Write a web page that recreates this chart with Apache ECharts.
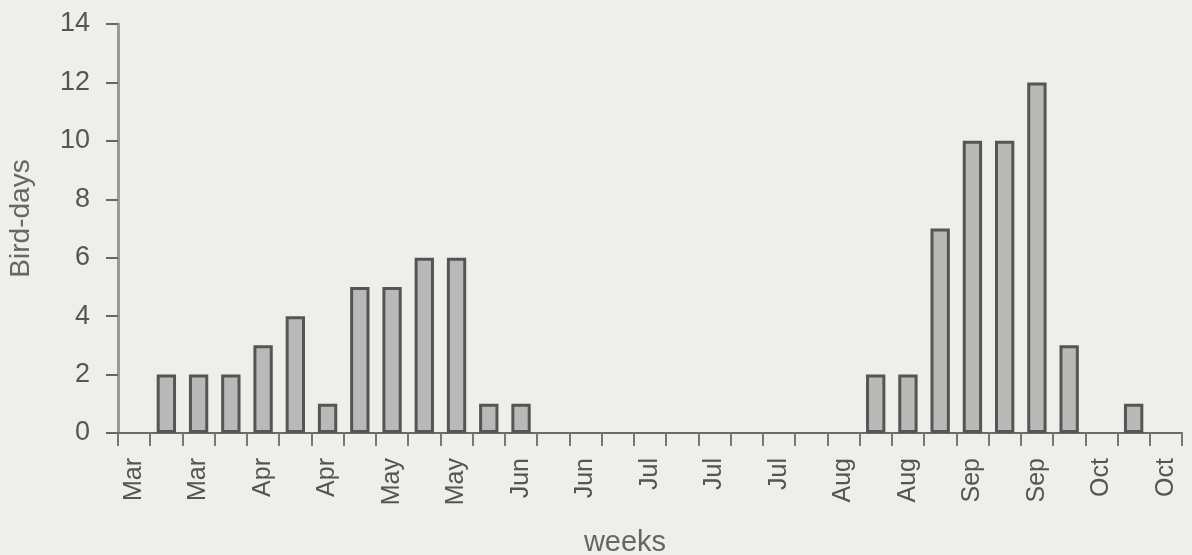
<!DOCTYPE html>
<html>
<head>
<meta charset="utf-8">
<script src="https://cdn.jsdelivr.net/npm/echarts@6/dist/echarts.min.js"></script>
<style>
html,body{margin:0;padding:0;background:#eeeeea;}
#chart{width:1192px;height:555px;}
</style>
</head>
<body>
<div id="chart"></div>
<script>
const weeks = ['Mar','Mar','Mar','Mar','Apr','Apr','Apr','Apr','May','May','May','May','Jun','Jun','Jun','Jun','Jul','Jul','Jul','Jul','Jul','Aug','Aug','Aug','Aug','Sep','Sep','Sep','Sep','Oct','Oct','Oct','Oct'];
const tickLabels = ['Mar','Mar','Apr','Apr','May','May','Jun','Jun','Jul','Jul','Jul','Aug','Aug','Sep','Sep','Oct','Oct'];
const birdDays = [0,2,2,2,3,4,1,5,5,6,6,1,1,0,0,0,0,0,0,0,0,0,0,2,2,7,10,10,12,3,0,1,0];
const yTicks = [0,2,4,6,8,10,12,14];

const categories = weeks.map((w, i) => i % 2 === 0 ? tickLabels[i / 2] : w);
const barData = birdDays.map(v => v === 0 ? { value: v, itemStyle: { borderWidth: 0 } } : v);

const chart = echarts.init(document.getElementById('chart'));
chart.setOption({
  backgroundColor: '#eeeeea',
  animation: false,
  textStyle: { fontFamily: 'Liberation Sans' },
  grid: { left: 118, right: 10, top: 24, bottom: 122, containLabel: false, outerBoundsMode: 'none' },
  xAxis: {
    type: 'category',
    data: categories,
    name: 'weeks',
    nameLocation: 'middle',
    nameGap: 95,
    nameTextStyle: { fontSize: 29, color: '#666', fontFamily: 'Liberation Sans', padding: [0, 50, 0, 0] },
    axisLine: { lineStyle: { color: '#6a6a6a', width: 2 } },
    axisTick: { show: true, interval: 0, length: 13, lineStyle: { color: '#777', width: 2 } },
    axisLabel: { interval: 1, rotate: 90, fontSize: 25, color: '#555', margin: 25, fontFamily: 'Liberation Sans' }
  },
  yAxis: {
    type: 'value',
    min: yTicks[0],
    max: yTicks[yTicks.length - 1],
    interval: 2,
    name: 'Bird-days',
    nameLocation: 'middle',
    nameGap: 83,
    nameRotate: 90,
    nameTextStyle: { fontSize: 28, color: '#666', fontFamily: 'Liberation Sans', padding: [0, 0, 0, 20] },
    axisLine: { show: true, lineStyle: { color: '#999', width: 3 } },
    axisTick: { show: true, length: 12, lineStyle: { color: '#666', width: 2 } },
    axisLabel: { fontSize: 27, color: '#555', margin: 28, fontFamily: 'Liberation Sans' },
    splitLine: { show: false }
  },
  series: [{
    type: 'bar',
    data: barData,
    barWidth: '60%',
    itemStyle: { color: '#b9b9b7', borderColor: '#555', borderWidth: 3 }
  }]
});
</script>
</body>
</html>
